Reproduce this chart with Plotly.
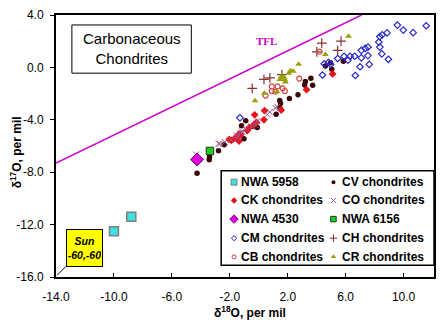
import plotly.graph_objects as go

# ---------------- data ----------------
nwa5958_x = [-8.8, -10.0]
nwa5958_y = [-11.4, -12.5]

cv_x = [5.84, 4.95, 4.6, 5.04, 3.6, 3.22, 3.72, 3.17, 2.71, 2.12, 1.45, 1.5, 1.45, 1.2,
        -0.1, -0.4, -1.19, -1.02, -1.48, -2.39, -2.78, -3.4, -3.42, -4.26, -0.9]
cv_y = [0.47, 0.35, 0.1, -0.15, -0.82, -1.07, -1.37, -1.35, -2.08, -2.38, -2.53, -2.75, -3.07, -3.58,
        -4.58, -4.52, -4.45, -5.45, -5.27, -5.9, -6.37, -6.83, -7.05, -8.08, -4.07]

ck_x = [5.1, 3.3, 1.55, 0.4, 0.36, -0.28, -0.15, -0.33, -0.67, -0.79, -1.24, -1.36, -1.65, -1.89, -2.04, -1.36]
ck_y = [-0.5, -1.7, -3.25, -3.3, -4.0, -3.62, -4.2, -4.35, -4.6, -4.82, -5.12, -5.08, -5.4, -5.57, -5.5, -5.62]

co_x = [1.27, 1.15, 0.76, 0.6, -0.22, -0.5, -0.9, -1.17, -1.24, -1.55, -1.48, -1.93, -2.34, -2.68, -2.78, -4.33, -0.1]
co_y = [-3.0, -3.1, -3.4, -3.6, -4.4, -4.5, -4.7, -4.87, -5.03, -5.2, -5.38, -5.53, -5.7, -5.82, -5.83, -6.65, -4.1]

nwa4530_x = [-4.26]
nwa4530_y = [-7.03]

nwa6156_x = [-3.37]
nwa6156_y = [-6.38]

cm_x = [9.57, 9.98, 10.66, 11.56, 8.36, 8.52, 8.86, 8.29, 8.36, 8.50, 8.95, 7.63, 7.54, 7.08, 6.99,
        6.67, 7.08, 7.35, 7.54, 6.62, 6.30, 5.89, 5.45, 6.16, 4.52, 4.81, 4.97, 4.40, -1.3]
cm_y = [3.23, 2.85, 2.65, 3.18, 2.35, 2.48, 2.63, 1.93, 1.55, 1.03, 0.62, 0.23, 0.90, 0.73, 0.05,
        -0.62, 1.30, 1.45, 1.55, 0.85, 0.85, 0.85, 0.68, 0.55, 0.28, 0.38, 0.23, -0.58, -3.85]

ch_x = [4.35, 5.68, 5.45, 4.01, 0.77, 0.36, -0.45, 1.6]
ch_y = [1.85, 2.0, 1.3, 1.18, -0.8, -0.92, -1.6, -0.55]

cb_x = [4.2, 2.8, 0.9, 1.3, 1.65, 0.9, 1.8, 1.15, 0.47]
cb_y = [1.2, -0.85, -1.45, -1.45, -1.6, -1.8, -1.8, -1.85, -2.15]

cr_x = [6.2, 4.6, 2.75, 2.38, 2.07, 2.19, 1.75, 1.57, 1.45, 1.8, 1.84, 1.27, 0.38, -0.26]
cr_y = [2.37, 0.98, 0.24, -0.3, -0.45, -0.25, -0.75, -0.7, -0.93, -0.95, -1.12, -1.85, -1.97, -2.55]

tfl_x = [-14.0, 7.1]
tfl_y = [-7.3, 4.0]

x_tick_vals = [-14, -10, -6, -2, 2, 6, 10]
x_tick_text = ["-14.0", "-10.0", "-6.0", "-2.0", "2.0", "6.0", "10.0"]
y_tick_vals = [-16, -12, -8, -4, 0, 4]
y_tick_text = ["-16.0", "-12.0", "-8.0", "-4.0", "0.0", "4.0"]

# ---------------- styles ----------------
FONT = "Liberation Sans, Arial, sans-serif"

styles = {
    "NWA 5958": dict(symbol="square", size=9, color="#3FE0E0", line=dict(color="#7F7F7F", width=1.5)),
    "CV chondrites": dict(symbol="circle", size=5.5, color="#3A0808", line=dict(width=0)),
    "CK chondrites": dict(symbol="diamond", size=6, color="#E8101A", line=dict(width=0)),
    "CO chondrites": dict(symbol="x-thin-open", size=6, color="#9C5C8C", line=dict(color="#9C5C8C", width=1)),
    "NWA 4530": dict(symbol="diamond", size=10, color="#DD00DD", line=dict(color="#800080", width=1)),
    "NWA 6156": dict(symbol="square", size=7.5, color="#22CC22", line=dict(color="#1A3A1A", width=1)),
    "CM chondrites": dict(symbol="diamond-open", size=5, color="#2828C8", line=dict(color="#2828C8", width=1.2)),
    "CH chondrites": dict(symbol="cross-thin-open", size=7, color="#8B3030", line=dict(color="#8B3030", width=1.2)),
    "CB chondrites": dict(symbol="circle-open", size=5, color="#D04040", line=dict(color="#D04040", width=1.2)),
    "CR chondrites": dict(symbol="triangle-up", size=6, color="#99A000", line=dict(width=0)),
}

series = [
    ("NWA 5958", nwa5958_x, nwa5958_y),
    ("CV chondrites", cv_x, cv_y),
    ("CK chondrites", ck_x, ck_y),
    ("CO chondrites", co_x, co_y),
    ("NWA 4530", nwa4530_x, nwa4530_y),
    ("NWA 6156", nwa6156_x, nwa6156_y),
    ("CM chondrites", cm_x, cm_y),
    ("CH chondrites", ch_x, ch_y),
    ("CB chondrites", cb_x, cb_y),
    ("CR chondrites", cr_x, cr_y),
]

fig = go.Figure()

# TFL line
fig.add_trace(go.Scatter(x=tfl_x, y=tfl_y, mode="lines",
                         line=dict(color="#CC00CC", width=1.5),
                         showlegend=False, hoverinfo="skip"))

for name, xs, ys in series:
    fig.add_trace(go.Scatter(x=xs, y=ys, mode="markers", name=name,
                             marker=styles[name], showlegend=False))

# ---------------- custom two-column legend ----------------
leg_rows = [0.362, 0.292, 0.221, 0.148, 0.077]
leg_mx = [0.471, 0.734]
leg_tx = [0.484, 0.750]
legend_size = {"NWA 5958": 6, "CV chondrites": 4, "CK chondrites": 5, "CO chondrites": 5,
               "NWA 4530": 6.5, "NWA 6156": 5.5, "CM chondrites": 4, "CH chondrites": 5.5,
               "CB chondrites": 4, "CR chondrites": 5}
annotations = []
for i, (name, _, _) in enumerate(series):
    r, c = divmod(i, 2)
    st = dict(styles[name])
    st["size"] = legend_size[name]
    if "line" in st and st["line"].get("width", 0) > 1:
        st["line"] = dict(st["line"], width=1)
    fig.add_trace(go.Scatter(x=[leg_mx[c]], y=[leg_rows[r]], mode="markers",
                             marker=st, xaxis="x2", yaxis="y2",
                             showlegend=False, hoverinfo="skip"))
    annotations.append(dict(xref="paper", yref="paper", x=leg_tx[c], y=leg_rows[r],
                            xanchor="left", yanchor="middle", showarrow=False,
                            text="<b>%s</b>" % name,
                            font=dict(family=FONT, size=12, color="black")))

# title box text
annotations.append(dict(xref="paper", yref="paper", x=0.2, y=0.872, xanchor="center", yanchor="middle",
                        showarrow=False, text="Carbonaceous<br>Chondrites",
                        font=dict(family=FONT, size=15, color="black")))
# TFL label
annotations.append(dict(xref="x", yref="y", x=0.5, y=2.0, showarrow=False,
                        text="<b>TFL</b>",
                        font=dict(family="Liberation Serif, Times New Roman, serif", size=11, color="#CC00CC")))
# Sun box
annotations.append(dict(xref="x", yref="y", x=-13.93, y=-15.87, ax=27, ay=-27,
                        showarrow=True, arrowhead=0, arrowwidth=1, arrowcolor="black", standoff=0,
                        text="<b><i>Sun</i></b><br><b><i>-60,-60</i></b>",
                        font=dict(family=FONT, size=10.5, color="black"),
                        bgcolor="#FFFF00", bordercolor="black", borderwidth=1, borderpad=1,
                        width=33, height=34, align="center"))
# axis titles
annotations.append(dict(xref="paper", yref="paper", x=0.513, y=-0.135, xanchor="center", yanchor="middle",
                        showarrow=False, text="<b>δ<sup>18</sup>O, per mil</b>",
                        font=dict(family=FONT, size=12, color="black")))
annotations.append(dict(xref="paper", yref="paper", x=-0.105, y=0.477, xanchor="center", yanchor="middle",
                        showarrow=False, textangle=-90, text="<b>δ<sup>17</sup>O, per mil</b>",
                        font=dict(family=FONT, size=12, color="black")))

shapes = [
    dict(type="rect", xref="paper", yref="paper", x0=0.042, x1=0.358, y0=0.778, y1=0.962,
         line=dict(color="black", width=1), fillcolor="white", layer="below"),
    dict(type="rect", xref="paper", yref="paper", x0=0.437, x1=1.0, y0=0.045, y1=0.406,
         line=dict(color="black", width=1.5), fillcolor="white", layer="below"),
]

fig.update_layout(
    width=444, height=326,
    margin=dict(l=56, r=8, t=11, b=49),
    paper_bgcolor="white", plot_bgcolor="white",
    showlegend=False,
    font=dict(family=FONT, size=12, color="black"),
    xaxis=dict(range=[-14, 12.1], tickvals=x_tick_vals, ticktext=x_tick_text,
               ticks="inside", ticklen=4, tickcolor="black", tickwidth=1,
               showline=True, linecolor="black", linewidth=2, mirror=True,
               showgrid=False, zeroline=False, ticklabelstandoff=8,
               tickfont=dict(family=FONT, size=12, color="black")),
    yaxis=dict(range=[-16, 4], tickvals=y_tick_vals, ticktext=y_tick_text,
               ticks="outside", ticklen=4, tickcolor="black", tickwidth=1,
               showline=True, linecolor="black", linewidth=2, mirror=True,
               showgrid=False, zeroline=False, ticklabelstandoff=4,
               tickfont=dict(family=FONT, size=12, color="black")),
    xaxis2=dict(overlaying="x", range=[0, 1], visible=False, fixedrange=True),
    yaxis2=dict(overlaying="y", range=[0, 1], visible=False, fixedrange=True),
    annotations=annotations,
    shapes=shapes,
)

fig.write_html("out.html")
